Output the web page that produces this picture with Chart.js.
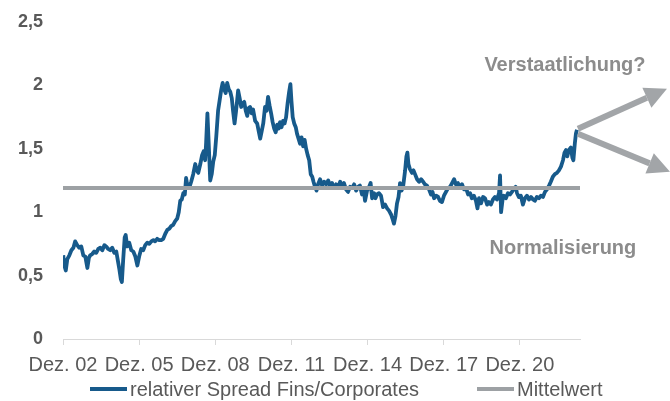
<!DOCTYPE html>
<html>
<head>
<meta charset="utf-8">
<script src="https://cdn.jsdelivr.net/npm/chart.js@4.4.1/dist/chart.umd.min.js"></script>
<style>
  html, body { margin: 0; padding: 0; background: #ffffff; }
  #wrap { width: 670px; height: 401px; position: relative; }
</style>
</head>
<body>
<div id="wrap"><canvas id="c" width="670" height="401"></canvas></div>
<script>
// ---- data (decimal years) ----
const dates = [
  2002.93,2002.97,2003.03,2003.09,2003.17,2003.25,2003.33,2003.40,2003.48,2003.56,
  2003.64,2003.72,2003.80,2003.88,2003.94,2003.99,2004.07,2004.15,2004.23,2004.31,
  2004.39,2004.47,2004.55,2004.62,2004.70,2004.78,2004.86,2004.94,2005.02,2005.08,
  2005.14,2005.20,2005.24,2005.29,2005.35,2005.39,2005.45,2005.53,2005.61,2005.69,
  2005.77,2005.85,2005.92,2006.00,2006.08,2006.16,2006.24,2006.32,2006.40,2006.48,
  2006.55,2006.63,2006.71,2006.79,2006.87,2006.95,2007.03,2007.11,2007.18,2007.26,
  2007.34,2007.42,2007.48,2007.54,2007.60,2007.66,2007.72,2007.77,2007.83,2007.89,
  2007.97,2008.05,2008.13,2008.19,2008.25,2008.33,2008.40,2008.46,2008.52,2008.56,
  2008.61,2008.66,2008.72,2008.78,2008.84,2008.90,2008.96,2009.03,2009.09,2009.15,
  2009.21,2009.27,2009.33,2009.39,2009.45,2009.51,2009.57,2009.62,2009.68,2009.74,
  2009.82,2009.88,2009.94,2010.00,2010.06,2010.12,2010.18,2010.23,2010.29,2010.35,
  2010.41,2010.49,2010.57,2010.63,2010.69,2010.75,2010.81,2010.88,2010.94,2011.00,
  2011.06,2011.12,2011.18,2011.24,2011.30,2011.36,2011.42,2011.47,2011.53,2011.59,
  2011.65,2011.71,2011.77,2011.83,2011.88,2011.92,2011.97,2012.03,2012.09,2012.14,
  2012.20,2012.26,2012.32,2012.38,2012.44,2012.50,2012.56,2012.62,2012.68,2012.74,
  2012.79,2012.85,2012.91,2012.97,2013.05,2013.13,2013.21,2013.29,2013.37,2013.44,
  2013.52,2013.60,2013.68,2013.76,2013.84,2013.92,2013.99,2014.07,2014.15,2014.23,
  2014.31,2014.39,2014.47,2014.55,2014.62,2014.70,2014.76,2014.82,2014.90,2014.98,
  2015.04,2015.10,2015.18,2015.23,2015.29,2015.37,2015.45,2015.53,2015.61,2015.69,
  2015.77,2015.85,2015.90,2015.96,2016.02,2016.08,2016.14,2016.20,2016.26,2016.32,
  2016.40,2016.45,2016.49,2016.53,2016.59,2016.67,2016.73,2016.79,2016.87,2016.95,
  2017.03,2017.11,2017.18,2017.26,2017.34,2017.42,2017.48,2017.54,2017.62,2017.70,
  2017.77,2017.85,2017.93,2018.01,2018.09,2018.17,2018.25,2018.33,2018.40,2018.48,
  2018.56,2018.64,2018.72,2018.80,2018.88,2018.96,2019.03,2019.11,2019.19,2019.25,
  2019.31,2019.39,2019.47,2019.55,2019.63,2019.70,2019.78,2019.86,2019.94,2020.02,
  2020.10,2020.14,2020.18,2020.24,2020.29,2020.37,2020.45,2020.53,2020.61,2020.69,
  2020.75,2020.81,2020.88,2020.96,2021.04,2021.12,2021.20,2021.28,2021.36,2021.44,
  2021.51,2021.59,2021.67,2021.75,2021.83,2021.91,2021.99,2022.07,2022.14,2022.22,
  2022.30,2022.38,2022.46,2022.54,2022.62,2022.68,2022.74,2022.79,2022.85,2022.93,
  2022.99,2023.03,2023.09,2023.13,2023.17
];
const spread = [
  0.66,0.58,0.54,0.63,0.66,0.70,0.72,0.77,0.74,0.72,
  0.73,0.66,0.65,0.56,0.64,0.66,0.67,0.69,0.68,0.71,
  0.72,0.70,0.74,0.73,0.71,0.70,0.72,0.68,0.69,0.62,
  0.55,0.47,0.45,0.62,0.80,0.82,0.73,0.76,0.70,0.69,
  0.65,0.58,0.65,0.71,0.70,0.74,0.76,0.75,0.77,0.78,
  0.77,0.79,0.78,0.78,0.79,0.83,0.86,0.87,0.89,0.90,
  0.93,0.95,1.00,1.09,1.10,1.15,1.14,1.27,1.20,1.19,
  1.24,1.30,1.38,1.33,1.31,1.38,1.45,1.48,1.41,1.55,
  1.78,1.55,1.25,1.30,1.40,1.45,1.60,1.80,1.88,1.96,
  2.02,1.97,1.94,2.02,1.97,1.95,1.90,1.80,1.70,1.80,
  1.96,1.90,1.83,1.86,1.87,1.80,1.76,1.82,1.83,1.78,
  1.81,1.72,1.70,1.64,1.58,1.64,1.70,1.83,1.80,1.91,
  1.84,1.78,1.71,1.66,1.63,1.69,1.66,1.71,1.67,1.72,
  1.70,1.75,1.86,1.95,2.01,1.88,1.75,1.70,1.67,1.62,
  1.58,1.54,1.59,1.52,1.57,1.50,1.45,1.41,1.30,1.28,
  1.24,1.20,1.17,1.22,1.26,1.21,1.24,1.22,1.25,1.21,
  1.23,1.19,1.22,1.20,1.24,1.21,1.23,1.18,1.16,1.20,
  1.19,1.22,1.17,1.20,1.21,1.14,1.19,1.09,1.17,1.20,
  1.23,1.11,1.15,1.11,1.14,1.15,1.13,1.04,1.06,1.03,
  1.01,0.98,0.95,0.91,0.97,1.07,1.12,1.23,1.17,1.20,
  1.33,1.44,1.47,1.38,1.34,1.31,1.33,1.30,1.26,1.24,
  1.26,1.24,1.22,1.21,1.18,1.14,1.16,1.11,1.13,1.12,
  1.09,1.08,1.13,1.16,1.19,1.20,1.23,1.26,1.22,1.23,
  1.20,1.22,1.18,1.19,1.14,1.15,1.11,1.13,1.09,1.03,
  1.11,1.07,1.12,1.11,1.06,1.08,1.06,1.10,1.12,1.10,
  1.15,1.29,1.00,1.10,1.13,1.11,1.15,1.14,1.16,1.19,
  1.20,1.15,1.12,1.13,1.06,1.11,1.13,1.10,1.12,1.10,
  1.09,1.12,1.11,1.13,1.12,1.16,1.18,1.21,1.24,1.28,
  1.30,1.31,1.33,1.36,1.41,1.47,1.49,1.44,1.49,1.51,
  1.43,1.41,1.55,1.62,1.65
];
const meanValue = 1.19;
const xMin = 2002.92;
const xMax = 2023.29;
const xTickValues = [2002.92, 2005.92, 2008.92, 2011.92, 2014.92, 2017.92, 2020.92];
const xTickLabels = ['Dez. 02', 'Dez. 05', 'Dez. 08', 'Dez. 11', 'Dez. 14', 'Dez. 17', 'Dez. 20'];
const yTicks = [0, 0.5, 1, 1.5, 2, 2.5];
const seriesNames = ['relativer Spread Fins/Corporates', 'Mittelwert'];
const annotationTexts = ['Verstaatlichung?', 'Normalisierung'];

// ---- styling ----
const FONT = '"Liberation Sans", Arial, Helvetica, sans-serif';
const BLUE = '#175a8b';
const GREY = '#9da1a4';
const TEXT = '#595959';
const ANNO = '#8c8c8c';
const ARROW = '#a2a5a8';

function drawArrow(ctx, x0, y0, x1, y1, w, headLen, headHalf, color) {
  const ang = Math.atan2(y1 - y0, x1 - x0);
  const bx = x1 - headLen * Math.cos(ang);
  const by = y1 - headLen * Math.sin(ang);
  ctx.save();
  ctx.strokeStyle = color;
  ctx.fillStyle = color;
  ctx.lineWidth = w;
  ctx.lineCap = 'butt';
  ctx.beginPath();
  ctx.moveTo(x0, y0);
  ctx.lineTo(bx, by);
  ctx.stroke();
  ctx.beginPath();
  ctx.moveTo(x1, y1);
  ctx.lineTo(bx + headHalf * Math.sin(ang), by - headHalf * Math.cos(ang));
  ctx.lineTo(bx - headHalf * Math.sin(ang), by + headHalf * Math.cos(ang));
  ctx.closePath();
  ctx.fill();
  ctx.restore();
}

const extras = {
  id: 'extras',
  afterDraw(chart) {
    const ctx = chart.ctx;
    // annotations anchored at the last point of the spread line
    const meta = chart.getDatasetMeta(0);
    const last = meta.data[meta.data.length - 1];
    const px = last.x, py = last.y;
    drawArrow(ctx, px + 1, py - 1, px + 90, py - 41, 6, 22, 11, ARROW);
    drawArrow(ctx, px + 1, py + 4, px + 93, py + 42, 6, 22, 11, ARROW);
    ctx.save();
    ctx.fillStyle = ANNO;
    ctx.font = 'bold 20px ' + FONT;
    ctx.textAlign = 'center';
    ctx.textBaseline = 'middle';
    ctx.fillText(annotationTexts[0], px - 12, py - 64);
    ctx.fillText(annotationTexts[1], px - 14, py + 119);
    ctx.restore();

    // legend
    ctx.save();
    ctx.font = '20px ' + FONT;
    ctx.textBaseline = 'middle';
    ctx.textAlign = 'left';
    const sample = 37, gapT = 3;
    const ds = chart.data.datasets;
    const starts = [chart.width / 2 - 245, chart.width / 2 + 142];
    const y = 389;
    [0, 1].forEach(i => {
      const x = starts[i];
      ctx.strokeStyle = ds[i].borderColor;
      ctx.lineWidth = 4;
      ctx.beginPath();
      ctx.moveTo(x, y);
      ctx.lineTo(x + sample, y);
      ctx.stroke();
      ctx.fillStyle = TEXT;
      ctx.fillText(ds[i].label, x + sample + gapT, y + 1);
    });
    ctx.restore();
  }
};

new Chart(document.getElementById('c'), {
  type: 'line',
  data: {
    datasets: [
      {
        label: seriesNames[0],
        data: dates.map((d, i) => ({ x: d, y: spread[i] })),
        borderColor: BLUE,
        borderWidth: 3.8,
        pointRadius: 0,
        tension: 0,
        borderJoinStyle: 'round',
        fill: false,
        order: 1
      },
      {
        label: seriesNames[1],
        data: [{ x: xMin, y: meanValue }, { x: xMax, y: meanValue }],
        borderColor: GREY,
        borderWidth: 4,
        pointRadius: 0,
        fill: false,
        order: 0
      }
    ]
  },
  options: {
    responsive: false,
    animation: false,
    parsing: false,
    layout: { padding: { top: 22, right: 90, bottom: 22, left: 0 } },
    plugins: { legend: { display: false }, tooltip: { enabled: false } },
    scales: {
      x: {
        type: 'linear',
        min: xMin,
        max: xMax,
        afterBuildTicks: s => { s.ticks = xTickValues.map(v => ({ value: v })); },
        afterFit: s => { s.height = 40; },
        grid: { display: true, drawOnChartArea: false, drawTicks: true, tickLength: 6, color: '#d9d9d9', lineWidth: 1 },
        border: { display: true, color: '#d9d9d9', width: 1 },
        ticks: {
          autoSkip: false,
          maxRotation: 0,
          minRotation: 0,
          padding: 8,
          color: TEXT,
          font: { family: FONT, size: 20 },
          callback: (v, i) => xTickLabels[i]
        }
      },
      y: {
        min: 0,
        max: 2.5,
        afterBuildTicks: s => { s.ticks = yTicks.map(v => ({ value: v })); },
        afterFit: s => { s.width = 63; s.paddingTop = 0; s.paddingBottom = 0; },
        grid: { display: false, drawTicks: false },
        border: { display: false },
        ticks: {
          padding: 20,
          color: TEXT,
          font: { family: FONT, size: 18, weight: 'bold' },
          callback: v => String(v).replace('.', ',')
        }
      }
    }
  },
  plugins: [extras]
});
</script>
</body>
</html>
